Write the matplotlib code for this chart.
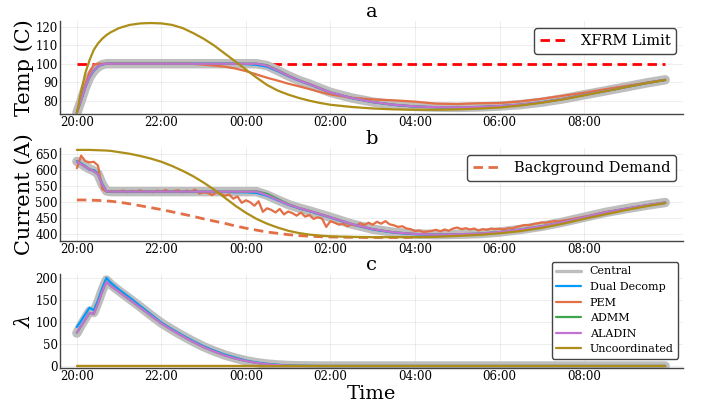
import matplotlib.pyplot as plt

plt.rcParams['font.family'] = 'DejaVu Serif'
plt.rcParams['mathtext.fontset'] = 'dejavuserif'

# hours after 20:00
hours = [0, 0.1, 0.2, 0.3, 0.4, 0.5, 0.6, 0.7, 0.8,
         1.0, 1.25, 1.5, 1.75, 2.0, 2.25, 2.5, 2.75, 3.0, 3.25, 3.5, 3.75,
         4.0, 4.25, 4.5, 4.75, 5.0, 5.25, 5.5, 5.75, 6.0,
         6.5, 7.0, 7.5, 8.0, 8.5, 9.0, 9.5, 10.0, 10.5, 11.0, 11.5, 12.0,
         12.5, 13.0, 13.5, 13.92]

tick_hours = [0, 2, 4, 6, 8, 10, 12]
tick_labels = ['20:00', '22:00', '00:00', '02:00', '04:00', '06:00', '08:00']

methods = ['Central', 'Dual Decomp', 'PEM', 'ADMM', 'ALADIN', 'Uncoordinated']
colors = ['#bebebe', '#009AFA', '#E36F47', '#3EA44E', '#C371D2', '#AC8E18']

xfrm_limit = 100

# ---- a: transformer temperature (C)
temp_central = [73.5, 80, 87, 92.5, 96, 98.3, 99.5, 100, 100,
                100, 100, 100, 100, 100, 100, 100, 100, 100, 100, 100, 100,
                100, 100, 99, 96.3, 93.5, 91, 89, 86.7, 84.5,
                81.5, 79.3, 77.8, 76.9, 76.5, 76.4, 76.6, 77.1, 77.9, 79.2, 81, 83.2,
                85.3, 87.5, 89.7, 91.3]
temp_dual = [73.5, 80.3, 87.3, 92.8, 96.2, 98.5, 99.6, 100, 100,
             100, 100, 100, 100, 100, 100, 100, 100, 100, 100, 100, 100,
             99.8, 99.4, 98.4, 96, 93.3, 90.9, 88.9, 86.6, 84.4,
             81.4, 79.2, 77.7, 76.8, 76.4, 76.3, 76.5, 77, 77.8, 79.1, 80.9, 83.1,
             85.2, 87.4, 89.6, 91.2]
temp_pem = [73.5, 81, 89, 95.5, 99.3, 100, 100, 100, 100,
            100, 100, 100, 100, 100, 100, 100, 99.9, 99.5, 99, 98.4, 97.4,
            96, 94.2, 92.4, 90.9, 89.2, 87.8, 86.3, 84.7, 83.4,
            81.6, 80.7, 80.2, 79.5, 78.4, 78.2, 78.6, 78.7, 79.6, 81, 82.7, 84.3,
            86.2, 88, 89.8, 91.2]
temp_admm = [73.5, 80.5, 87.5, 93, 96.5, 98.6, 99.7, 100, 100,
             100, 100, 100, 100, 100, 100, 100, 100, 100, 100, 100, 100,
             100, 100, 99.2, 96.5, 93.6, 91.1, 89, 86.7, 84.5,
             81.5, 79.3, 77.8, 76.9, 76.5, 76.4, 76.6, 77.1, 77.9, 79.2, 81, 83.2,
             85.3, 87.5, 89.7, 91.3]
temp_aladin = [73.5, 80.5, 87.5, 93, 96.5, 98.6, 99.7, 100, 100,
               100, 100, 100, 100, 100, 100, 100, 100, 100, 100, 100, 100,
               100, 100, 99, 96.3, 93.5, 91, 89, 86.7, 84.5,
               81.5, 79.3, 77.8, 76.9, 76.5, 76.4, 76.6, 77.1, 77.9, 79.2, 81, 83.2,
               85.3, 87.5, 89.7, 91.3]
temp_uncoord = [73.5, 85, 95, 102, 107.5, 111, 113.5, 115.5, 117,
                119.3, 121, 121.8, 122, 121.8, 121, 119.3, 116.6, 113.5, 109.8, 105.5, 101.2,
                96.8, 92.5, 88.5, 85.5, 83.3, 81.5, 80, 78.8, 77.8,
                76.6, 75.8, 75.3, 75.1, 75.1, 75.3, 75.7, 76.3, 77.4, 78.9, 80.7, 82.9,
                85.1, 87.4, 89.6, 91.2]

# ---- b: current (A)
cur_central = [627, 620, 611, 604, 598, 588, 556, 535, 533,
               533, 533, 533, 533, 533, 533, 533, 533, 533, 533, 533, 533,
               533, 533, 522, 507, 493, 482, 473, 463, 453,
               432, 416, 406, 401, 399, 400, 402, 407, 415, 425, 438, 453,
               468, 480, 491, 499]
cur_dual = [628, 621, 612, 601, 600, 590, 557, 534, 532,
            532, 532, 532, 532, 532, 532, 532, 532, 532, 532, 532, 531,
            531, 529, 520, 506, 492, 481, 472, 462, 452,
            431, 415, 405, 400, 398, 399, 401, 406, 414, 424, 437, 452,
            467, 479, 490, 498]
cur_admm = [626, 619, 610, 603, 597, 587, 555, 534, 533,
            533, 533, 533, 533, 533, 533, 533, 533, 533, 533, 533, 533,
            533, 534, 526, 510, 494, 482, 473, 463, 453,
            432, 416, 406, 401, 399, 400, 402, 407, 415, 425, 438, 453,
            468, 480, 491, 499]
cur_aladin = [626, 619, 610, 603, 597, 587, 555, 534, 533,
              533, 533, 533, 533, 533, 533, 533, 533, 533, 533, 533, 533,
              533, 533, 522, 507, 493, 482, 473, 463, 453,
              432, 416, 406, 401, 399, 400, 402, 407, 415, 425, 438, 453,
              468, 480, 491, 499]
cur_uncoord = [663, 663, 663, 663, 662.5, 662, 661.5, 661, 660,
               656, 651, 644, 636, 626, 613, 598, 581, 561, 539, 514, 489,
               467, 448, 433, 421, 411, 404, 399, 396, 393.5,
               392, 391, 391, 391, 392, 395, 398, 403, 410, 420, 433, 448,
               462, 476, 488, 497]
background = [507, 507, 507, 506.5, 506, 505.5, 505, 504, 503,
              500, 495, 489, 483, 477, 470, 463, 456, 448, 441, 434, 426,
              419, 413, 407, 403, 399, 396, 394, 392.5, 391.5,
              390.5, 390, 390, 390, 391, 393.5, 397, 402, 409, 419, 432, 447,
              461, 475, 487, 496]

# PEM current is noisy, read at 0.1 h steps
pem_hours = [i / 10 for i in range(140)]
cur_pem = [606, 645, 628, 624, 626, 614, 541, 533, 535, 532,
           534, 536, 531, 535, 533, 537, 532, 534, 531, 536,
           533, 538, 532, 535, 537, 531, 536, 533, 539, 527,
           531, 529, 522, 531, 526, 520, 524, 511, 518, 498,
           506, 500, 489, 503, 470, 481, 476, 468, 479, 462,
           471, 466, 458, 468, 455, 460, 448, 453, 449, 423,
           441, 436, 430, 433, 425, 431, 427, 434, 429, 436,
           430, 439, 433, 441, 431, 428, 423, 425, 418, 416,
           410, 412, 407, 409, 411, 414, 409, 415, 411, 418,
           421, 416, 419, 415, 418, 412, 416, 414, 418, 416,
           417, 415, 419, 418, 423, 426, 429, 428, 432, 434,
           437, 436, 439, 441, 440, 443, 445, 447, 450, 452,
           455, 457, 460, 463, 466, 469, 471, 473, 475, 477,
           479, 481, 484, 486, 488, 490, 492, 494, 496, 498]

# ---- c: price lambda
lam_central = [75, 93, 109, 125, 122, 146, 173, 196, 186,
               171, 153, 135, 116, 98, 83, 69, 56, 44, 34, 25, 18,
               12, 7.5, 4.5, 2.5, 1.2, 0.5, 0.2, 0, 0,
               0, 0, 0, 0, 0, 0, 0, 0, 0, 0, 0, 0, 0, 0, 0, 0]
lam_dual = [89, 103, 118, 133, 127, 150, 178, 201, 190,
            174, 156, 137, 118, 99, 84, 70, 57, 45, 35, 26, 19,
            12.5, 8, 5, 2.8, 1.4, 0.6, 0.2, 0, 0,
            0, 0, 0, 0, 0, 0, 0, 0, 0, 0, 0, 0, 0, 0, 0, 0]
lam_pem = [0] * len(hours)
lam_admm = [76, 91, 106, 121, 119, 143, 170, 192, 183,
            169, 151, 133, 115, 97, 82, 68, 55, 43, 33, 24, 17,
            11.5, 7, 4, 2.2, 1, 0.4, 0.1, 0, 0,
            0, 0, 0, 0, 0, 0, 0, 0, 0, 0, 0, 0, 0, 0, 0, 0]
lam_aladin = [76, 91, 106, 121, 119, 143, 170, 192, 183,
              169, 151, 133, 115, 97, 82, 68, 55, 43, 33, 24, 17,
              11.5, 7, 4, 2.2, 1, 0.4, 0.1, 0, 0,
              0, 0, 0, 0, 0, 0, 0, 0, 0, 0, 0, 0, 0, 0, 0, 0]
lam_uncoord = [0] * len(hours)


def style_axis(ax, title, ylabel, yticks, ylim):
    ax.set_xlim(-0.4, 14.34)
    ax.set_ylim(*ylim)
    ax.set_xticks(tick_hours)
    ax.set_xticklabels(tick_labels)
    ax.set_yticks(yticks)
    ax.tick_params(length=0, labelsize=8.5, pad=1.5)
    ax.grid(True, color='black', alpha=0.08, lw=0.6)
    ax.set_axisbelow(True)
    for side in ['top', 'right']:
        ax.spines[side].set_visible(False)
    for side in ['left', 'bottom']:
        ax.spines[side].set_color('#444444')
        ax.spines[side].set_linewidth(1.0)
    ax.set_title(title, fontsize=14, pad=3)
    ax.set_ylabel(ylabel, fontsize=15)
    ax.yaxis.set_label_coords(-0.042, 0.5)


def plot_methods(ax, series, x=hours, pem_x=None):
    for i, (name, col, vals) in enumerate(zip(methods, colors, series)):
        xs = pem_x if (name == 'PEM' and pem_x is not None) else x
        lw = 6.8 if name == 'Central' else 1.6
        ax.plot(xs, vals, color=col, lw=lw, label=name,
                solid_capstyle='round', zorder=2 + i)


fig = plt.figure(figsize=(7.04, 4.04), dpi=100)
ax_a = fig.add_axes([0.0852, 0.7178, 0.8849, 0.2302])
ax_b = fig.add_axes([0.0852, 0.4042, 0.8849, 0.2295])
ax_c = fig.add_axes([0.0852, 0.0884, 0.8849, 0.2334])

# a
ax_a.plot([hours[0], hours[-1]], [xfrm_limit, xfrm_limit], color='#FF0000',
          lw=2.0, dashes=(3.4, 2.0), label='XFRM Limit', zorder=1)
plot_methods(ax_a, [temp_central, temp_dual, temp_pem, temp_admm,
                    temp_aladin, temp_uncoord])
style_axis(ax_a, 'a', 'Temp (C)', [80, 90, 100, 110, 120], (72.8, 123.1))
h, l = ax_a.get_legend_handles_labels()
ax_a.legend([h[0]], [l[0]], loc='upper right', bbox_to_anchor=(0.989, 0.925),
            borderaxespad=0, fontsize=10.5, edgecolor='#444444', framealpha=1)

# b
ax_b.plot(hours, background, color='#E36F47', lw=2.0, dashes=(3.4, 2.0),
          label='Background Demand', zorder=1)
plot_methods(ax_b, [cur_central, cur_dual, cur_pem, cur_admm,
                    cur_aladin, cur_uncoord], pem_x=pem_hours)
style_axis(ax_b, 'b', 'Current (A)', [400, 450, 500, 550, 600, 650], (380, 669))
h, l = ax_b.get_legend_handles_labels()
ax_b.legend([h[0]], [l[0]], loc='upper right', bbox_to_anchor=(0.989, 0.925),
            borderaxespad=0, fontsize=10.5, edgecolor='#444444', framealpha=1)

# c
plot_methods(ax_c, [lam_central, lam_dual, lam_pem, lam_admm,
                    lam_aladin, lam_uncoord])
style_axis(ax_c, 'c', r'$\lambda$', [0, 50, 100, 150, 200], (-5.2, 209.8))
ax_c.set_xlabel('Time', fontsize=14, labelpad=1)
leg = ax_c.legend(loc='upper right', bbox_to_anchor=(0.992, 1.127),
                  borderaxespad=0, fontsize=8, labelspacing=0.5,
                  handlelength=2.2, edgecolor='#444444', framealpha=1)
for line in leg.get_lines():
    line.set_linewidth(1.6)
leg.get_lines()[0].set_linewidth(2.4)

fig.savefig('out.png', dpi=100)
